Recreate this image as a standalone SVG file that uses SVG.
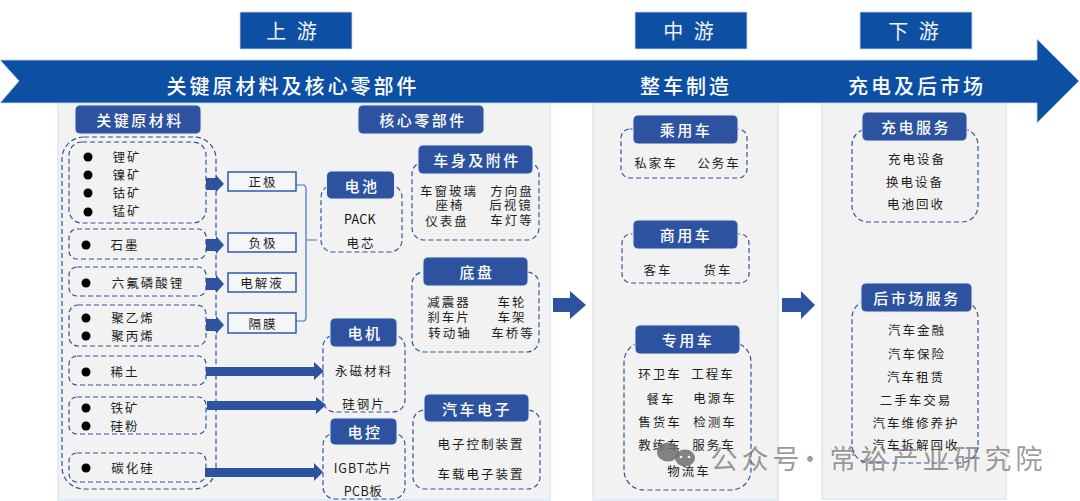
<svg xmlns="http://www.w3.org/2000/svg" width="1080" height="501" viewBox="0 0 1080 501">
<style>
text{font-family:"Noto Sans CJK SC","Noto Sans",sans-serif;text-anchor:middle;dominant-baseline:central;transform:translateY(-1px)}
.panel{fill:#f2f2f2;stroke:#dbe8f5;stroke-width:1.5}
.top{fill:#0d4fa3;stroke:#c9d9ee;stroke-width:.8}
.toptx{fill:#eef3fa;font-size:20px;letter-spacing:3px}
.bantx{fill:#fff;font-size:20px;letter-spacing:3px;font-weight:500}
.hd{fill:#2c52a0;stroke:#e4e9f3;stroke-width:1}
.hdtx{fill:#fff;font-size:15px;letter-spacing:2.5px;font-weight:500}
.dash{fill:none;stroke:#2f5597;stroke-width:1.2;stroke-dasharray:5 3}
.lb{fill:#1f1f1f;font-size:12.500px;letter-spacing:2px}
.lat{fill:#111;font-size:12.500px;letter-spacing:.3px}
.box{fill:#f5f6f8;stroke:#2f5ab0;stroke-width:1.5}
.ar{fill:#2c52a0}
.cn{fill:none;stroke:#4472c4;stroke-width:1.2}
.wm{fill:#000;fill-opacity:.022;font-size:38px;font-weight:700;letter-spacing:1px}
.wms{fill:#000;fill-opacity:.025;font-size:10px;letter-spacing:3.400px}
.ov{fill:#6f6f6f;fill-opacity:.7;font-size:27px;letter-spacing:4px}
</style>
<rect width="1080" height="501" fill="#fff"/>
<g id="panels">
<rect class="panel" x="58" y="98" width="492" height="402"/>
<rect class="panel" x="593" y="98" width="185" height="402"/>
<rect class="panel" x="822" y="98" width="184" height="401"/>
</g>
<g id="watermarks">
<text class="wm" x="275" y="62">常裕产业研究院</text>
<text class="wm" x="795" y="62">常裕产业研究院</text>
<text class="wm" x="105" y="222">产业研究院</text>
<text class="wms" x="100" y="247">INDUSTRIAL RESEARCH INSTITUTE</text>
<text class="wm" x="590" y="222">常裕产业研究院</text>
<text class="wms" x="590" y="247">CHANGYU INDUSTRIAL RESEARCH INSTITUTE</text>
<text class="wm" x="1020" y="222">常裕产</text>
<text class="wms" x="1020" y="247">CHANGYU IN</text>
<text class="wm" x="280" y="378">常裕产业研究院</text>
<text class="wms" x="280" y="404">CHANGYU INDUSTRIAL RESEARCH INSTITUTE</text>
<text class="wm" x="800" y="378">常裕产业研究院</text>
<text class="wms" x="800" y="407">CHANGYU INDUSTRIAL RESEARCH INSTITUTE</text>
</g>
<g id="banner">
<polygon points="0,60 1037,60 1037,39 1079,81 1037,123 1037,103 0,103 19,81" fill="#0d4fa3" stroke="#c9d9ee" stroke-width=".8"/>
<text class="bantx" x="293" y="86">关键原材料及核心零部件</text>
<text class="bantx" x="686" y="86">整车制造</text>
<text class="bantx" x="917" y="86">充电及后市场</text>
</g>
<g id="stage-up"><rect class="top" x="240" y="12" width="112" height="37"/><text class="toptx" x="293" y="31">上 游</text></g>
<g id="stage-mid"><rect class="top" x="635" y="12" width="112" height="37"/><text class="toptx" x="690" y="31">中 游</text></g>
<g id="stage-down"><rect class="top" x="860" y="12" width="112" height="37"/><text class="toptx" x="915" y="31">下 游</text></g>

<g id="connectors">
<path class="cn" d="M296 185H303Q306 185 306 189V317Q306 321 303 321H296M306 240H317"/>
<polygon class="ar" points="206,178 216,178 216,175 224,184 216,192 216,190 206,190"/>
<polygon class="ar" points="206,239 216,239 216,236 224,245 216,254 216,251 206,251"/>
<polygon class="ar" points="206,278 216,278 216,275 224,284 216,293 216,290 206,290"/>
<polygon class="ar" points="206,319 216,319 216,316 224,325 216,334 216,331 206,331"/>
<polygon class="ar" points="206,367 314,367 314,362 324,371 314,380 314,376 206,376"/>
<polygon class="ar" points="207,401 316,401 316,397 326,405 316,414 316,410 207,410"/>
<polygon class="ar" points="205,468 314,468 314,463 323,472 314,481 314,477 205,477"/>
<polygon class="ar" points="553,298 570,298 570,291 586,305 570,319 570,312 553,312"/>
<polygon class="ar" points="782,298 801,298 801,291 815,305 801,319 801,312 782,312"/>
</g>

<g id="materials">
<rect class="dash" x="62" y="137" width="154" height="352" rx="22"/>
<rect class="hd" x="75" y="105" width="126" height="29" rx="5"/><text class="hdtx" x="140" y="120">关键原材料</text>
</g>
<g id="mat-1">
<rect class="dash" x="69" y="142" width="137" height="81" rx="13"/>
<circle cx="88" cy="157" r="4.500"/><circle cx="88" cy="175" r="4.500"/><circle cx="88" cy="193" r="4.500"/><circle cx="88" cy="212" r="4.500"/>
<text class="lb" x="127" y="157">锂矿</text><text class="lb" x="127" y="175">镍矿</text><text class="lb" x="127" y="193">钴矿</text><text class="lb" x="127" y="211">锰矿</text>
</g>
<g id="mat-2"><rect class="dash" x="69" y="229" width="137" height="30" rx="8"/><circle cx="86" cy="245" r="4.500"/><text class="lb" x="125" y="245">石墨</text></g>
<g id="mat-3"><rect class="dash" x="69" y="267" width="137" height="29" rx="8"/><circle cx="86" cy="283" r="4.500"/><text class="lb" x="148" y="283">六氟磷酸锂</text></g>
<g id="mat-4"><rect class="dash" x="69" y="305" width="137" height="41" rx="9"/><circle cx="86" cy="318" r="4.500"/><circle cx="86" cy="336" r="4.500"/><text class="lb" x="133" y="318">聚乙烯</text><text class="lb" x="133" y="336">聚丙烯</text></g>
<g id="mat-5"><rect class="dash" x="69" y="356" width="137" height="29" rx="8"/><circle cx="86" cy="372" r="4.500"/><text class="lb" x="125" y="372">稀土</text></g>
<g id="mat-6"><rect class="dash" x="69" y="397" width="137" height="37" rx="8"/><circle cx="86" cy="408" r="4.500"/><circle cx="86" cy="426" r="4.500"/><text class="lb" x="125" y="408">铁矿</text><text class="lb" x="125" y="426">硅粉</text></g>
<g id="mat-7"><rect class="dash" x="69" y="453" width="137" height="29" rx="8"/><circle cx="86" cy="468" r="4.500"/><text class="lb" x="133" y="468">碳化硅</text></g>

<g id="cathode"><rect class="box" x="228" y="172" width="68" height="19"/><text class="lb" x="263" y="182">正极</text></g>
<g id="anode"><rect class="box" x="228" y="233" width="68" height="19"/><text class="lb" x="263" y="243">负极</text></g>
<g id="electrolyte"><rect class="box" x="228" y="273" width="68" height="19"/><text class="lb" x="262" y="283">电解液</text></g>
<g id="separator"><rect class="box" x="228" y="313" width="68" height="20"/><text class="lb" x="263" y="324">隔膜</text></g>

<g id="core-header"><rect class="hd" x="358" y="105" width="126" height="29" rx="5"/><text class="hdtx" x="423" y="120">核心零部件</text></g>

<g id="battery">
<rect class="dash" x="321" y="185" width="81" height="67" rx="12"/>
<rect class="hd" x="326.500" y="171" width="68" height="28" rx="5"/><text class="hdtx" x="362" y="186">电池</text>
<text class="lat" x="360" y="219">PACK</text><text class="lb" x="361" y="243">电芯</text>
</g>
<g id="motor">
<rect class="dash" x="323" y="335" width="82" height="77" rx="12"/>
<rect class="hd" x="330" y="318" width="67" height="29" rx="5"/><text class="hdtx" x="365" y="333">电机</text>
<text class="lb" x="364" y="371">永磁材料</text><text class="lb" x="364" y="404">硅钢片</text>
</g>
<g id="control">
<rect class="dash" x="323" y="433" width="82" height="66" rx="12"/>
<rect class="hd" x="330" y="418" width="67" height="27" rx="5"/><text class="hdtx" x="365" y="432">电控</text>
<text class="lb" x="363" y="468" style="letter-spacing:1px">IGBT芯片</text><text class="lb" x="363" y="491" style="letter-spacing:.5px">PCB板</text>
</g>
<g id="body">
<rect class="dash" x="412" y="162" width="127" height="78" rx="12"/>
<rect class="hd" x="418" y="145" width="115" height="29" rx="5"/><text class="hdtx" x="477" y="160">车身及附件</text>
<text class="lb" x="449" y="191">车窗玻璃</text><text class="lb" x="512" y="191">方向盘</text>
<text class="lb" x="450" y="205">座椅</text><text class="lb" x="511" y="205">后视镜</text>
<text class="lb" x="447" y="221">仪表盘</text><text class="lb" x="512" y="220">车灯等</text>
</g>
<g id="chassis">
<rect class="dash" x="412" y="272" width="127" height="80" rx="12"/>
<rect class="hd" x="423" y="257" width="105" height="29" rx="5"/><text class="hdtx" x="477" y="272">底盘</text>
<text class="lb" x="449" y="302">减震器</text><text class="lb" x="512" y="302">车轮</text>
<text class="lb" x="449" y="317">刹车片</text><text class="lb" x="512" y="317">车架</text>
<text class="lb" x="450" y="333">转动轴</text><text class="lb" x="513" y="333">车桥等</text>
</g>
<g id="electronics">
<rect class="dash" x="413" y="410" width="127" height="79" rx="12"/>
<rect class="hd" x="424" y="394" width="105" height="28" rx="5"/><text class="hdtx" x="477" y="409">汽车电子</text>
<text class="lb" x="481" y="444">电子控制装置</text><text class="lb" x="481" y="474">车载电子装置</text>
</g>

<g id="passenger">
<rect class="dash" x="621" y="129" width="126" height="49" rx="9"/>
<rect class="hd" x="633" y="115" width="105" height="29" rx="5"/><text class="hdtx" x="686" y="130">乘用车</text>
<text class="lb" x="656" y="163">私家车</text><text class="lb" x="719" y="163">公务车</text>
</g>
<g id="commercial">
<rect class="dash" x="622" y="234" width="127" height="49" rx="9"/>
<rect class="hd" x="633" y="220" width="105" height="29" rx="5"/><text class="hdtx" x="686" y="235">商用车</text>
<text class="lb" x="658" y="270">客车</text><text class="lb" x="718" y="270">货车</text>
</g>
<g id="special">
<rect class="dash" x="624" y="342" width="127" height="148" rx="20"/>
<rect class="hd" x="635" y="325" width="105" height="29" rx="5"/><text class="hdtx" x="688" y="340">专用车</text>
<text class="lb" x="660" y="374">环卫车</text><text class="lb" x="713" y="374">工程车</text>
<text class="lb" x="661" y="399">餐车</text><text class="lb" x="715" y="398">电源车</text>
<text class="lb" x="660" y="422">售货车</text><text class="lb" x="715" y="422">检测车</text>
<text class="lb" x="660" y="445">教练车</text><text class="lb" x="714" y="445">服务车</text>
<text class="lb" x="689" y="471">物流车</text>
</g>
<g id="charging">
<rect class="dash" x="852" y="129" width="126" height="93" rx="16"/>
<rect class="hd" x="862" y="112" width="105" height="29" rx="5"/><text class="hdtx" x="916" y="127">充电服务</text>
<text class="lb" x="917" y="159">充电设备</text><text class="lb" x="915" y="182">换电设备</text><text class="lb" x="916" y="204">电池回收</text>
</g>
<g id="aftermarket">
<rect class="dash" x="852" y="300" width="126" height="163" rx="18"/>
<rect class="hd" x="861" y="283" width="111" height="29" rx="5"/><text class="hdtx" x="917" y="298">后市场服务</text>
<text class="lb" x="917" y="330">汽车金融</text><text class="lb" x="917" y="354">汽车保险</text><text class="lb" x="916" y="377">汽车租赁</text><text class="lb" x="916" y="400">二手车交易</text><text class="lb" x="916" y="423">汽车维修养护</text><text class="lb" x="916" y="445">汽车拆解回收</text>
</g>
<g id="overlay">
<ellipse cx="668" cy="452" rx="11" ry="9.500" fill="#6f6f6f" fill-opacity=".85"/>
<ellipse cx="685" cy="458" rx="10" ry="8.500" fill="#6f6f6f" fill-opacity=".85"/>
<circle cx="681" cy="457" r="1.300" fill="#fff"/><circle cx="689" cy="457" r="1.300" fill="#fff"/>
<text class="ov" x="757" y="458">公众号</text>
<text class="ov" x="812" y="458">·</text>
<text class="ov" x="938" y="458">常裕产业研究院</text>
</g>
</svg>
